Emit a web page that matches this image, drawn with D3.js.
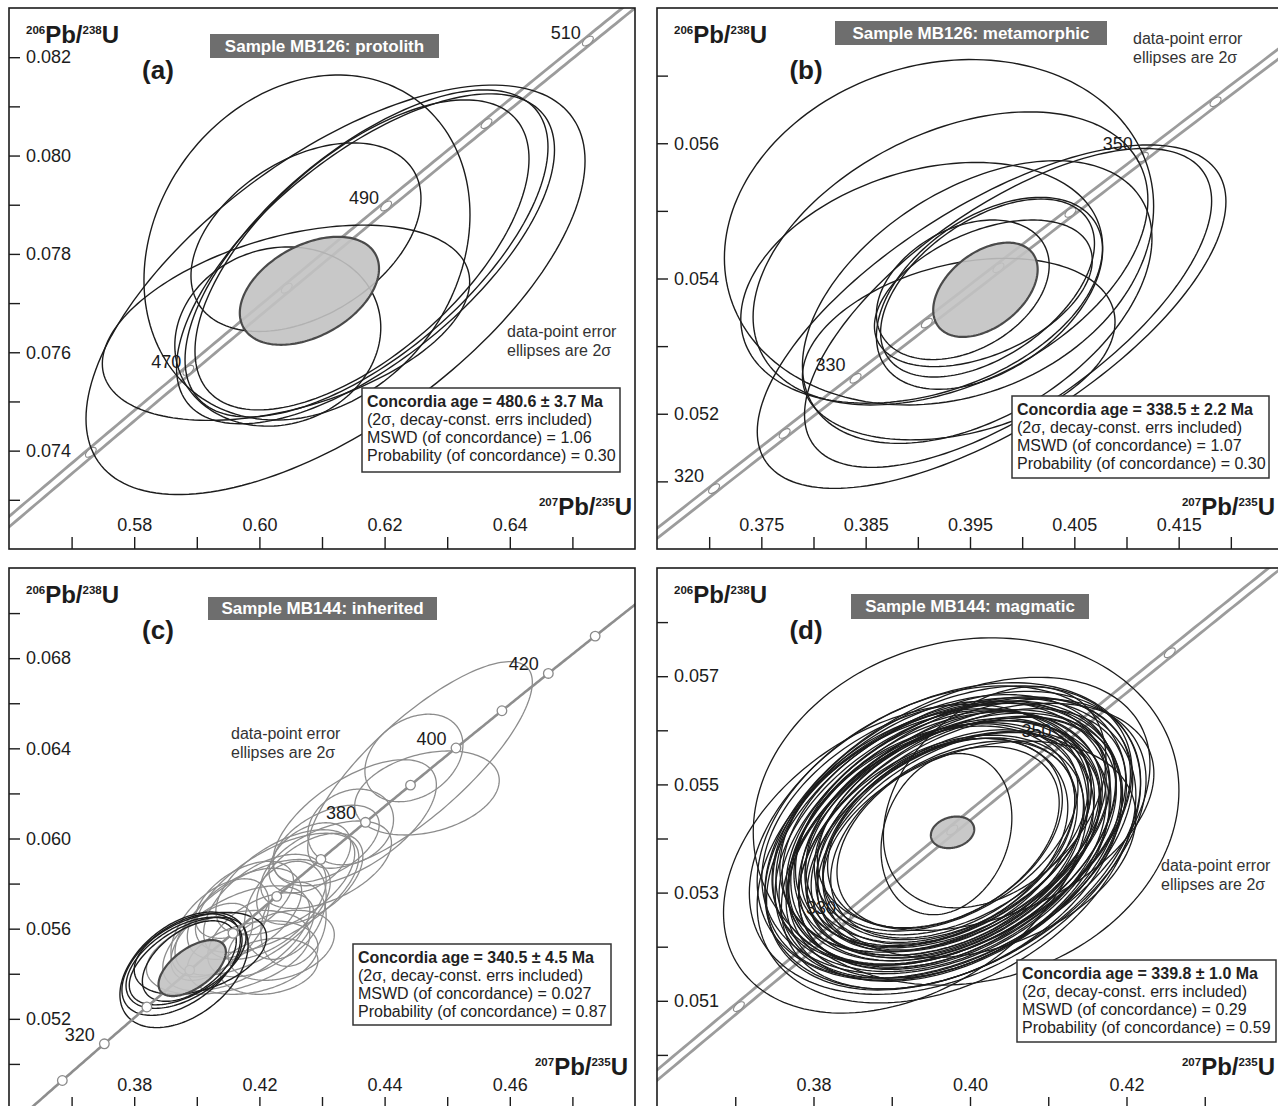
<!DOCTYPE html>
<html>
<head>
<meta charset="utf-8">
<script src="https://cdn.jsdelivr.net/npm/d3@7"></script>
<style>
  body { margin: 0; background: #fff; }
  svg { display: block; }
  text { font-family: "Liberation Sans", Arial, Helvetica, sans-serif; }
</style>
</head>
<body>
<svg id="chart" width="1278" height="1106"></svg>
<script>
// U-Pb decay constants (per year)
const LAMBDA_238 = 1.55125e-10;
const LAMBDA_235 = 9.8485e-10;

// ---- panel descriptors ----
const panelKeys = ["a", "b", "c", "d"];
const panelLetters = ["(a)", "(b)", "(c)", "(d)"];
const sampleTitles = [
  "Sample MB126: protolith",
  "Sample MB126: metamorphic",
  "Sample MB144: inherited",
  "Sample MB144: magmatic"
];
const concordiaAgeMa = [480.6, 338.5, 340.5, 339.8];
const concordiaAgeErr = [3.7, 2.2, 4.5, 1.0];
const mswdValues = ["1.06", "1.07", "0.027", "0.29"];
const probabilityValues = ["0.30", "0.30", "0.87", "0.59"];

// axis domains (207Pb/235U, 206Pb/238U)
const xDomains = [[0.56, 0.66], [0.365, 0.425], [0.34, 0.54], [0.36, 0.44]];
const yDomains = [[0.072, 0.083], [0.050, 0.058], [0.048, 0.072], [0.049, 0.059]];

// tick positions and printed tick labels
const xTicksA = [0.57, 0.58, 0.59, 0.60, 0.61, 0.62, 0.63, 0.64, 0.65];
const xTicksB = [0.370, 0.375, 0.380, 0.385, 0.390, 0.395, 0.400, 0.405, 0.410, 0.415, 0.420];
const xTicksC = [0.36, 0.38, 0.40, 0.42, 0.44, 0.46, 0.48, 0.50, 0.52];
const xTicksD = [0.37, 0.38, 0.39, 0.40, 0.41, 0.42, 0.43];
const xLabelValuesA = [0.58, 0.60, 0.62, 0.64];
const xLabelTextsA = ["0.58", "0.60", "0.62", "0.64"];
const xLabelValuesB = [0.375, 0.385, 0.395, 0.405, 0.415];
const xLabelTextsB = ["0.375", "0.385", "0.395", "0.405", "0.415"];
const xLabelValuesC = [0.38, 0.42, 0.46, 0.50];
const xLabelTextsC = ["0.38", "0.42", "0.44", "0.46"];
const xLabelValuesD = [0.38, 0.40, 0.42];
const xLabelTextsD = ["0.38", "0.40", "0.42"];

const yTicksA = [0.073, 0.074, 0.075, 0.076, 0.077, 0.078, 0.079, 0.080, 0.081, 0.082];
const yTicksB = [0.051, 0.052, 0.053, 0.054, 0.055, 0.056, 0.057];
const yTicksC = [0.050, 0.052, 0.054, 0.056, 0.058, 0.060, 0.062, 0.064, 0.066, 0.068, 0.070];
const yTicksD = [0.050, 0.051, 0.052, 0.053, 0.054, 0.055, 0.056, 0.057, 0.058];
const yLabelValuesA = [0.074, 0.076, 0.078, 0.080, 0.082];
const yLabelValuesB = [0.052, 0.054, 0.056];
const yLabelValuesC = [0.052, 0.056, 0.060, 0.064, 0.068];
const yLabelValuesD = [0.051, 0.053, 0.055, 0.057];

// concordia age markers (Ma) and the ones carrying a printed label
const markerAgesA = [460, 470, 480, 490, 500, 510];
const labelAgesA = [470, 490, 510];
const markerAgesB = [320, 325, 330, 335, 340, 345, 350, 355];
const labelAgesB = [320, 330, 350];
const markerAgesC = [310, 320, 330, 340, 350, 360, 370, 380, 390, 400, 410, 420, 430];
const labelAgesC = [320, 380, 400, 420];
const markerAgesD = [320, 330, 340, 350, 360];
const labelAgesD = [330, 350];

// data-point 2-sigma error ellipses: [207/235, 206/238, 2s(207/235), 2s(206/238), rho]
const ellipsesA = [
  [0.61216, 0.07727, 0.03986, 0.004162, 0.63],
  [0.60760, 0.07813, 0.02604, 0.003508, 0.19],
  [0.60744, 0.07834, 0.01837, 0.001917, 0.41],
  [0.60425, 0.07660, 0.02934, 0.001985, 0.42],
  [0.60294, 0.07632, 0.01645, 0.001822, 0.10],
  [0.61695, 0.07790, 0.03019, 0.003355, 0.66],
  [0.61711, 0.07801, 0.02899, 0.003325, 0.65],
  [0.61639, 0.07798, 0.02668, 0.003152, 0.62]
];
const ellipsesB = [
  [0.39203, 0.054684, 0.02057, 0.002554, 0.15],
  [0.39313, 0.054297, 0.01892, 0.002167, 0.40],
  [0.39707, 0.053436, 0.02246, 0.002539, 0.67],
  [0.39865, 0.053565, 0.01951, 0.002358, 0.67],
  [0.39687, 0.053781, 0.01084, 0.001419, 0.45],
  [0.39628, 0.053781, 0.01044, 0.001084, 0.45],
  [0.39431, 0.053833, 0.00828, 0.001032, 0.35],
  [0.39668, 0.053859, 0.01025, 0.001316, 0.50],
  [0.39569, 0.053652, 0.01675, 0.002090, 0.45],
  [0.39037, 0.053936, 0.01734, 0.001780, 0.30],
  [0.39392, 0.052956, 0.01498, 0.001342, 0.30]
];
const ellipsesCInherited = [
  [0.47132, 0.063262, 0.03588, 0.004583, 0.80],
  [0.46937, 0.063573, 0.01566, 0.001942, 0.30],
  [0.47354, 0.062019, 0.02309, 0.001864, 0.30],
  [0.44915, 0.060512, 0.01370, 0.001678, 0.20],
  [0.45045, 0.060699, 0.02609, 0.002796, 0.60],
  [0.44132, 0.058835, 0.02087, 0.001942, 0.50],
  [0.43610, 0.058213, 0.01696, 0.002020, 0.50],
  [0.42827, 0.058058, 0.02218, 0.002330, 0.55],
  [0.42566, 0.057592, 0.02609, 0.002641, 0.60],
  [0.42175, 0.056971, 0.01957, 0.002330, 0.50],
  [0.41783, 0.056505, 0.02479, 0.002563, 0.60],
  [0.41523, 0.056660, 0.01826, 0.002020, 0.50],
  [0.42044, 0.055728, 0.01696, 0.001864, 0.50],
  [0.41262, 0.055572, 0.02348, 0.002330, 0.55],
  [0.41783, 0.054718, 0.02087, 0.001631, 0.30],
  [0.41001, 0.054951, 0.02609, 0.001864, 0.40],
  [0.42827, 0.056815, 0.01305, 0.002175, 0.30],
  [0.43088, 0.056194, 0.01044, 0.001864, 0.20],
  [0.40740, 0.056039, 0.01566, 0.002175, 0.50],
  [0.41523, 0.057281, 0.01566, 0.001709, 0.50],
  [0.43610, 0.059146, 0.01305, 0.001553, 0.40],
  [0.40479, 0.055417, 0.01305, 0.001709, 0.50],
  [0.42697, 0.055262, 0.01696, 0.001553, 0.30],
  [0.44132, 0.059767, 0.01696, 0.001709, 0.50],
  [0.42305, 0.054330, 0.01566, 0.001243, 0.20]
];
const ellipsesCConcordant = [
  [0.39592, 0.054174, 0.02048, 0.002563, 0.43],
  [0.39500, 0.054407, 0.01892, 0.002252, 0.50],
  [0.39592, 0.054485, 0.01853, 0.002020, 0.50],
  [0.39709, 0.054563, 0.01866, 0.001942, 0.55],
  [0.40114, 0.054905, 0.02114, 0.001818, 0.40],
  [0.39761, 0.054563, 0.01500, 0.001786, 0.50]
];
const ellipsesD = [
  [0.3972, 0.05402, 0.0142, 0.00168, 0.38],
  [0.3968, 0.05410, 0.0150, 0.00175, 0.35],
  [0.3978, 0.05398, 0.0156, 0.00182, 0.40],
  [0.3965, 0.05395, 0.0160, 0.00190, 0.33],
  [0.3975, 0.05415, 0.0163, 0.00186, 0.42],
  [0.3970, 0.05390, 0.0167, 0.00196, 0.36],
  [0.3982, 0.05405, 0.0170, 0.00192, 0.39],
  [0.3962, 0.05408, 0.0172, 0.00200, 0.31],
  [0.3976, 0.05420, 0.0175, 0.00198, 0.37],
  [0.3968, 0.05385, 0.0178, 0.00206, 0.34],
  [0.3985, 0.05395, 0.0180, 0.00204, 0.43],
  [0.3972, 0.05412, 0.0183, 0.00210, 0.38],
  [0.3960, 0.05398, 0.0185, 0.00214, 0.30],
  [0.3979, 0.05388, 0.0187, 0.00208, 0.41],
  [0.3966, 0.05418, 0.0189, 0.00218, 0.35],
  [0.3988, 0.05408, 0.0191, 0.00216, 0.44],
  [0.3974, 0.05396, 0.0193, 0.00222, 0.37],
  [0.3963, 0.05388, 0.0195, 0.00226, 0.32],
  [0.3981, 0.05418, 0.0197, 0.00220, 0.40],
  [0.3970, 0.05404, 0.0199, 0.00230, 0.36],
  [0.3958, 0.05412, 0.0201, 0.00228, 0.29],
  [0.3984, 0.05392, 0.0203, 0.00234, 0.42],
  [0.3973, 0.05380, 0.0205, 0.00238, 0.35],
  [0.3967, 0.05422, 0.0207, 0.00232, 0.38],
  [0.3990, 0.05400, 0.0209, 0.00240, 0.45],
  [0.3976, 0.05410, 0.0211, 0.00244, 0.39],
  [0.3961, 0.05396, 0.0213, 0.00242, 0.31],
  [0.3980, 0.05384, 0.0215, 0.00248, 0.40],
  [0.3969, 0.05416, 0.0217, 0.00250, 0.36],
  [0.3986, 0.05414, 0.0219, 0.00246, 0.43],
  [0.3972, 0.05394, 0.0221, 0.00256, 0.37],
  [0.3957, 0.05402, 0.0223, 0.00252, 0.30],
  [0.3982, 0.05402, 0.0226, 0.00260, 0.41],
  [0.3966, 0.05386, 0.0228, 0.00264, 0.34],
  [0.3977, 0.05424, 0.0230, 0.00258, 0.39],
  [0.3992, 0.05390, 0.0233, 0.00268, 0.44],
  [0.3964, 0.05410, 0.0236, 0.00272, 0.33],
  [0.3979, 0.05396, 0.0239, 0.00276, 0.40],
  [0.3970, 0.05378, 0.0242, 0.00282, 0.36],
  [0.3984, 0.05420, 0.0246, 0.00278, 0.42],
  [0.3968, 0.05400, 0.0250, 0.00288, 0.35],
  [0.3995, 0.05450, 0.0272, 0.00321, 0.12],
  [0.39176, 0.053627, 0.02326, 0.002854, 0.35],
  [0.40200, 0.054400, 0.02150, 0.002100, 0.38],
  [0.39699, 0.054081, 0.00836, 0.001490, 0.20],
  [0.40120, 0.053800, 0.02000, 0.002000, 0.30],
  [0.40315, 0.054762, 0.01422, 0.002043, 0.35]
];
// concordia-age (weighted mean) ellipses
const meanEllipses = [
  [0.60799, 0.07725, 0.01112, 0.001098, 0.41],
  [0.39648, 0.053833, 0.005005, 0.000697, 0.43],
  [0.39853, 0.054252, 0.01076, 0.001243, 0.58],
  [0.39777, 0.054114, 0.00277, 0.000292, 0.19]
];

// ---- layout ----
const panelW = 626, panelH = 541;
const panelOrigins = [[9, 8], [657, 8], [9, 568], [657, 568]];
const titleBoxes = [[201, 26, 229, 24], [178, 13, 272, 24], [199, 29, 229, 23], [194, 26, 238, 25]];
const resultBoxes = [[353, 380, 258, 84], [355, 388, 257, 82], [344, 376, 258, 81], [360, 392, 259, 82]];
const notePositions = [[498, 323], [476, 30], [222, 165], [504, 297]];
const ratioTitleRight = [623, 618, 619, 618];
const ageLabelOffsets = [[-7, -8], [-10, -13], [-9.5, -9], [-9, -10]];
const concordiaSpans = [[430, 540], [300, 372], [280, 460], [295, 380]];
const doubleBand = [true, true, false, true];

const xTicksAll = [xTicksA, xTicksB, xTicksC, xTicksD];
const xLabelValuesAll = [xLabelValuesA, xLabelValuesB, xLabelValuesC, xLabelValuesD];
const xLabelTextsAll = [xLabelTextsA, xLabelTextsB, xLabelTextsC, xLabelTextsD];
const yTicksAll = [yTicksA, yTicksB, yTicksC, yTicksD];
const yLabelValuesAll = [yLabelValuesA, yLabelValuesB, yLabelValuesC, yLabelValuesD];
const markerAgesAll = [markerAgesA, markerAgesB, markerAgesC, markerAgesD];
const labelAgesAll = [labelAgesA, labelAgesB, labelAgesC, labelAgesD];

const INK = "#1c1c1c";
const BAND = "#9c9c9c";

const svg = d3.select("#chart");
const defs = svg.append("defs");

function concordia(ageMa) {
  const t = ageMa * 1e6;
  return [Math.expm1(LAMBDA_235 * t), Math.expm1(LAMBDA_238 * t)];
}

function ellipsePath(e, x, y) {
  const [cx, cy, sx, sy, rho] = e;
  const s = Math.sqrt(1 - rho * rho);
  const pts = d3.range(0, 360, 2).map(deg => {
    const t = deg * Math.PI / 180;
    return [x(cx + sx * Math.cos(t)), y(cy + sy * (rho * Math.cos(t) + s * Math.sin(t)))];
  });
  return d3.line()(pts) + "Z";
}

function near(v, list) {
  return list.findIndex(u => Math.abs(u - v) < 1e-9);
}

function drawConcordia(plot, i, x, y) {
  const [a0, a1] = concordiaSpans[i];
  const curve = d3.range(a0, a1 + 0.01, 0.5).map(concordia);
  const line = d3.line().x(d => x(d[0])).y(d => y(d[1]));
  const g = plot.append("g").attr("class", "concordia");
  if (doubleBand[i]) {
    g.append("path").attr("d", line(curve)).attr("fill", "none")
      .attr("stroke", BAND).attr("stroke-width", 10.8);
    g.append("path").attr("d", line(curve)).attr("fill", "none")
      .attr("stroke", "#fff").attr("stroke-width", 5.2);
  } else {
    g.append("path").attr("d", line(curve)).attr("fill", "none")
      .attr("stroke", "#8e8e8e").attr("stroke-width", 2.6);
  }
  markerAgesAll[i].forEach(age => {
    const p = concordia(age);
    const q0 = concordia(age - 0.5), q1 = concordia(age + 0.5);
    const ang = Math.atan2(y(q1[1]) - y(q0[1]), x(q1[0]) - x(q0[0])) * 180 / Math.PI;
    const px = x(p[0]), py = y(p[1]);
    if (doubleBand[i]) {
      g.append("ellipse").attr("cx", 0).attr("cy", 0).attr("rx", 6.5).attr("ry", 3.4)
        .attr("transform", `translate(${px},${py}) rotate(${ang})`)
        .attr("fill", "#fff").attr("stroke", "#8a8a8a").attr("stroke-width", 1.1);
    } else {
      g.append("circle").attr("cx", px).attr("cy", py).attr("r", 4.8)
        .attr("fill", "#fff").attr("stroke", "#8a8a8a").attr("stroke-width", 1.3);
    }
  });
  const [dx, dy] = ageLabelOffsets[i];
  labelAgesAll[i].forEach(age => {
    const p = concordia(age);
    g.append("text").attr("x", x(p[0]) + dx).attr("y", y(p[1]) + dy)
      .attr("text-anchor", "end").attr("dominant-baseline", "central")
      .attr("font-size", 18).attr("fill", INK).text(age);
  });
}

function drawEllipses(plot, list, x, y, color, width) {
  plot.append("g").selectAll("path").data(list).join("path")
    .attr("d", e => ellipsePath(e, x, y))
    .attr("fill", "none").attr("stroke", color).attr("stroke-width", width);
}

function ratioTitle(g, xPos, yPos, sup1, sup2, anchor) {
  const t = g.append("text").attr("x", xPos).attr("y", yPos)
    .attr("text-anchor", anchor).attr("fill", INK).attr("font-weight", "bold");
  t.append("tspan").attr("font-size", 11.5).attr("dy", -9).text(sup1);
  t.append("tspan").attr("font-size", 24).attr("dy", 9).text("Pb/");
  t.append("tspan").attr("font-size", 11.5).attr("dy", -9).text(sup2);
  t.append("tspan").attr("font-size", 24).attr("dy", 9).text("U");
}

panelKeys.forEach((key, i) => {
  const [ox, oy] = panelOrigins[i];
  const x = d3.scaleLinear().domain(xDomains[i]).range([ox, ox + panelW]);
  const y = d3.scaleLinear().domain(yDomains[i]).range([oy + panelH, oy]);
  const root = svg.append("g").attr("class", "panel-" + key);

  defs.append("clipPath").attr("id", "clip-" + key).append("rect")
    .attr("x", ox).attr("y", oy).attr("width", panelW).attr("height", panelH);
  const plot = root.append("g").attr("clip-path", `url(#clip-${key})`);

  if (key === "c") {
    drawEllipses(plot, ellipsesCInherited, x, y, "#8c8c8c", 1.3);
    drawEllipses(plot, ellipsesCConcordant, x, y, INK, 1.4);
    drawConcordia(plot, i, x, y);
  } else {
    drawConcordia(plot, i, x, y);
    const list = key === "a" ? ellipsesA : key === "b" ? ellipsesB : ellipsesD;
    drawEllipses(plot, list, x, y, INK, key === "d" ? 1.3 : 1.4);
  }

  // concordia-age ellipse
  plot.append("path").attr("d", ellipsePath(meanEllipses[i], x, y))
    .attr("fill", "#c2c2c2").attr("fill-opacity", 0.9)
    .attr("stroke", "#4a4a4a").attr("stroke-width", 2.2);

  // frame
  root.append("rect").attr("x", ox).attr("y", oy).attr("width", panelW).attr("height", panelH)
    .attr("fill", "none").attr("stroke", INK).attr("stroke-width", 1.6);

  // axes
  const yAxis = d3.axisRight(y).tickValues(yTicksAll[i]).tickSize(11).tickPadding(6)
    .tickFormat(v => near(v, yLabelValuesAll[i]) >= 0 ? d3.format(".3f")(v) : "");
  const yg = root.append("g").attr("transform", `translate(${ox},0)`).call(yAxis);
  const xAxis = d3.axisTop(x).tickValues(xTicksAll[i]).tickSize(12).tickPadding(6)
    .tickFormat(v => { const k = near(v, xLabelValuesAll[i]); return k >= 0 ? xLabelTextsAll[i][k] : ""; });
  const xg = root.append("g").attr("transform", `translate(0,${oy + panelH})`).call(xAxis);
  [yg, xg].forEach(ax => {
    ax.select(".domain").remove();
    ax.selectAll(".tick line").attr("stroke", INK).attr("stroke-width", 1.4);
    ax.selectAll(".tick text").attr("fill", INK).attr("font-size", 18)
      .attr("font-family", "\"Liberation Sans\", Arial, sans-serif");
  });

  // axis titles
  ratioTitle(root, ox + 17, oy + 35, "206", "238", "start");
  ratioTitle(root, ox + ratioTitleRight[i], oy + 507, "207", "235", "end");

  // panel letter
  root.append("text").attr("x", ox + 149).attr("y", oy + 71)
    .attr("text-anchor", "middle").attr("font-size", 26).attr("font-weight", "bold")
    .attr("fill", INK).text(panelLetters[i]);

  // sample title
  const [tx, ty, tw, th] = titleBoxes[i];
  root.append("rect").attr("x", ox + tx).attr("y", oy + ty).attr("width", tw).attr("height", th)
    .attr("fill", "#6e6e6e");
  root.append("text").attr("x", ox + tx + tw / 2).attr("y", oy + ty + th / 2)
    .attr("text-anchor", "middle").attr("dominant-baseline", "central")
    .attr("font-size", 17).attr("font-weight", "bold").attr("fill", "#fff")
    .text(sampleTitles[i]);

  // ellipse note
  const [nx, ny] = notePositions[i];
  const note = root.append("text").attr("x", ox + nx).attr("y", oy + ny)
    .attr("font-size", 16).attr("fill", "#333").attr("dominant-baseline", "central");
  note.append("tspan").attr("x", ox + nx).text("data-point error");
  note.append("tspan").attr("x", ox + nx).attr("dy", 19).text("ellipses are 2σ");

  // result box
  const [bx, by, bw, bh] = resultBoxes[i];
  root.append("rect").attr("x", ox + bx).attr("y", oy + by).attr("width", bw).attr("height", bh)
    .attr("fill", "#fff").attr("stroke", "#333").attr("stroke-width", 1.5);
  const lines = [
    `Concordia age = ${concordiaAgeMa[i].toFixed(1)} ± ${concordiaAgeErr[i].toFixed(1)} Ma`,
    "(2σ, decay-const. errs included)",
    `MSWD (of concordance) = ${mswdValues[i]}`,
    `Probability (of concordance) = ${probabilityValues[i]}`
  ];
  lines.forEach((s, k) => {
    root.append("text").attr("x", ox + bx + 5).attr("y", oy + by + 13 + k * 18.3)
      .attr("dominant-baseline", "central").attr("font-size", 16)
      .attr("font-weight", k === 0 ? "bold" : "normal").attr("fill", "#222").text(s);
  });
});
</script>
</body>
</html>
